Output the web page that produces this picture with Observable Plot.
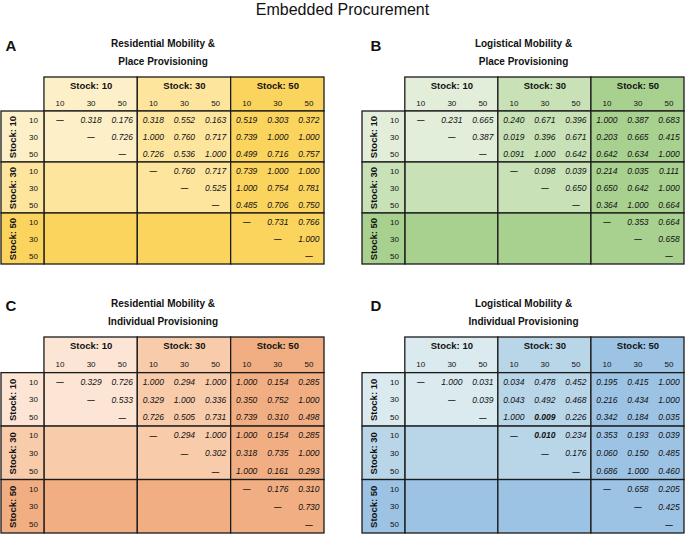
<!DOCTYPE html>
<html>
<head>
<meta charset="utf-8">
<script src="https://cdn.jsdelivr.net/npm/d3@7"></script>
<script src="https://cdn.jsdelivr.net/npm/@observablehq/plot@0.6"></script>
<style>
  html, body { margin: 0; padding: 0; background: #fff; }
  #fig { position: relative; width: 685px; height: 534px; font-family: "Liberation Sans", Arial, sans-serif; }
  #title { position: absolute; left: 0; top: 0; width: 685px; text-align: center; font-size: 16px; line-height: 20px; color: #111; }
  .panel { position: absolute; }
</style>
</head>
<body>
<div id="fig">
  <div id="title">Embedded Procurement</div>
</div>
<script>
// ---------- data ----------
const stockLevels = ["10", "30", "50"];
const subLevels = ["10", "30", "50"];
const DASH = "—";

const valuesA = [
  ["—", "0.318", "0.176", "0.318", "0.552", "0.163", "0.519", "0.303", "0.372"],
  ["", "—", "0.726", "1.000", "0.760", "0.717", "0.739", "1.000", "1.000"],
  ["", "", "—", "0.726", "0.536", "1.000", "0.499", "0.716", "0.757"],
  ["", "", "", "—", "0.760", "0.717", "0.739", "1.000", "1.000"],
  ["", "", "", "", "—", "0.525", "1.000", "0.754", "0.781"],
  ["", "", "", "", "", "—", "0.485", "0.706", "0.750"],
  ["", "", "", "", "", "", "—", "0.731", "0.766"],
  ["", "", "", "", "", "", "", "—", "1.000"],
  ["", "", "", "", "", "", "", "", "—"]
];
const valuesB = [
  ["—", "0.231", "0.665", "0.240", "0.671", "0.396", "1.000", "0.387", "0.683"],
  ["", "—", "0.387", "0.019", "0.396", "0.671", "0.203", "0.665", "0.415"],
  ["", "", "—", "0.091", "1.000", "0.642", "0.642", "0.634", "1.000"],
  ["", "", "", "—", "0.098", "0.039", "0.214", "0.035", "0.111"],
  ["", "", "", "", "—", "0.650", "0.650", "0.642", "1.000"],
  ["", "", "", "", "", "—", "0.364", "1.000", "0.664"],
  ["", "", "", "", "", "", "—", "0.353", "0.664"],
  ["", "", "", "", "", "", "", "—", "0.658"],
  ["", "", "", "", "", "", "", "", "—"]
];
const valuesC = [
  ["—", "0.329", "0.726", "1.000", "0.294", "1.000", "1.000", "0.154", "0.285"],
  ["", "—", "0.533", "0.329", "1.000", "0.336", "0.350", "0.752", "1.000"],
  ["", "", "—", "0.726", "0.505", "0.731", "0.739", "0.310", "0.498"],
  ["", "", "", "—", "0.294", "1.000", "1.000", "0.154", "0.285"],
  ["", "", "", "", "—", "0.302", "0.318", "0.735", "1.000"],
  ["", "", "", "", "", "—", "1.000", "0.161", "0.293"],
  ["", "", "", "", "", "", "—", "0.176", "0.310"],
  ["", "", "", "", "", "", "", "—", "0.730"],
  ["", "", "", "", "", "", "", "", "—"]
];
const valuesD = [
  ["—", "1.000", "0.031", "0.034", "0.478", "0.452", "0.195", "0.415", "1.000"],
  ["", "—", "0.039", "0.043", "0.492", "0.468", "0.216", "0.434", "1.000"],
  ["", "", "—", "1.000", "0.009", "0.226", "0.342", "0.184", "0.035"],
  ["", "", "", "—", "0.010", "0.234", "0.353", "0.193", "0.039"],
  ["", "", "", "", "—", "0.176", "0.060", "0.150", "0.485"],
  ["", "", "", "", "", "—", "0.686", "1.000", "0.460"],
  ["", "", "", "", "", "", "—", "0.658", "0.205"],
  ["", "", "", "", "", "", "", "—", "0.425"],
  ["", "", "", "", "", "", "", "", "—"]
];
// bold (significant) cells as [row, col]
const boldD = [[2, 4], [3, 4]];

const panelLetters = ["A", "B", "C", "D"];
const panelTitles = [
  ["Residential Mobility &", "Place Provisioning"],
  ["Logistical Mobility &", "Place Provisioning"],
  ["Residential Mobility &", "Individual Provisioning"],
  ["Logistical Mobility &", "Individual Provisioning"]
];
const paletteA = ["#fdf0c8", "#fee59e", "#fbd45e"];
const paletteB = ["#e2eed9", "#c8e1b6", "#a8d08f"];
const paletteC = ["#fce5d5", "#f8cbab", "#f2ae83"];
const paletteD = ["#dbeaef", "#b9d5e8", "#9dc3e4"];

// ---------- layout (not data) ----------
const LBL = 1.38;            // width of the row-label box, in column units
const FONT = "'Liberation Sans', Arial, Helvetica, sans-serif";
const INK = "#1b1b1b";

function panel(p) {
  const cells = [];
  p.values.forEach((row, i) => row.forEach((v, j) => {
    if (v !== "") cells.push({i, j, v, bold: p.bold.some(([a, b]) => a === i && b === j)});
  }));
  const secs = [0, 1, 2];
  const headerSecs = secs.map(k => ({k}));
  const bodySecs = secs.flatMap(i => secs.map(j => ({i, j, lvl: Math.max(i, j)})));
  const ticks = secs.flatMap(k => subLevels.map((s, m) => ({idx: k * 3 + m, s})));
  const stroke = {stroke: INK, strokeWidth: 1.3};

  const svg = Plot.plot({
    width: p.width, height: p.height,
    marginTop: p.mt, marginBottom: p.mb, marginLeft: p.ml, marginRight: p.mr,
    x: {domain: [-LBL, 9], axis: null},
    y: {domain: [-2, 9], axis: null, reverse: true},
    color: {type: "identity"},
    style: {fontFamily: FONT, color: "#111", background: "transparent", overflow: "visible"},
    marks: [
      // header sections
      Plot.rect(headerSecs, {x1: d => d.k * 3, x2: d => d.k * 3 + 3, y1: () => -2, y2: () => 0, fill: d => p.palette[d.k], ...stroke}),
      // body sections
      Plot.rect(bodySecs, {x1: d => d.j * 3, x2: d => d.j * 3 + 3, y1: d => d.i * 3, y2: d => d.i * 3 + 3, fill: d => p.palette[d.lvl], ...stroke}),
      // row-label sections
      Plot.rect(headerSecs, {x1: () => -LBL, x2: () => 0, y1: d => d.k * 3, y2: d => d.k * 3 + 3, fill: d => p.palette[d.k], ...stroke}),
      // column stock labels
      Plot.text(headerSecs, {x: d => d.k * 3 + 1.5, y: () => -1.5, text: d => "Stock: " + stockLevels[d.k], fontWeight: "bold", fontSize: 9.5}),
      // column sub labels
      Plot.text(ticks, {x: d => d.idx + 0.5, y: () => -0.5, text: "s", fontSize: 8}),
      // row stock labels (rotated)
      Plot.text(headerSecs, {x: () => -LBL + 0.37, y: d => d.k * 3 + 1.5, text: d => "Stock: " + stockLevels[d.k], rotate: -90, fontWeight: "bold", fontSize: 9.5}),
      // row sub labels
      Plot.text(ticks, {x: () => -0.35, y: d => d.idx + 0.5, text: "s", fontSize: 8}),
      // values
      Plot.text(cells.filter(d => d.v !== DASH && !d.bold), {x: d => d.j + 0.5, y: d => d.i + 0.5, text: "v", fontStyle: "italic", fontSize: 8.5}),
      Plot.text(cells.filter(d => d.v !== DASH && d.bold), {x: d => d.j + 0.5, y: d => d.i + 0.5, text: "v", fontStyle: "italic", fontWeight: "bold", fontSize: 8.5}),
      Plot.text(cells.filter(d => d.v === DASH), {x: d => d.j + 0.5, y: d => d.i + 0.5, text: "v", fontSize: 7.5, fontWeight: "bold"}),
      // titles
      Plot.text([p.title[0]], {frameAnchor: "top", dy: -38, fontWeight: "bold", fontSize: 10}),
      Plot.text([p.title[1]], {frameAnchor: "top", dy: -20, fontWeight: "bold", fontSize: 10}),
      Plot.text([p.letter], {frameAnchor: "top-left", dx: p.ldx, dy: -37, fontWeight: "bold", fontSize: 15})
    ]
  });
  svg.classList.add("panel");
  svg.style.left = p.left + "px";
  svg.style.top = p.top + "px";
  return svg;
}

const fig = document.getElementById("fig");
const specs = [
  {values: valuesA, bold: [], palette: paletteA, left: 0, top: 25, width: 340, height: 240, mt: 52, mb: 1, ml: 1, mr: 16, ldx: 4},
  {values: valuesB, bold: [], palette: paletteB, left: 340, top: 25, width: 345, height: 240, mt: 52, mb: 1, ml: 22, mr: 1, ldx: 8},
  {values: valuesC, bold: [], palette: paletteC, left: 0, top: 283, width: 340, height: 251, mt: 54, mb: 1, ml: 1, mr: 16, ldx: 4},
  {values: valuesD, bold: boldD, palette: paletteD, left: 340, top: 283, width: 345, height: 251, mt: 54, mb: 1, ml: 22, mr: 1, ldx: 8}
];
specs.forEach((s, k) => fig.appendChild(panel({...s, letter: panelLetters[k], title: panelTitles[k]})));
</script>
</body>
</html>
